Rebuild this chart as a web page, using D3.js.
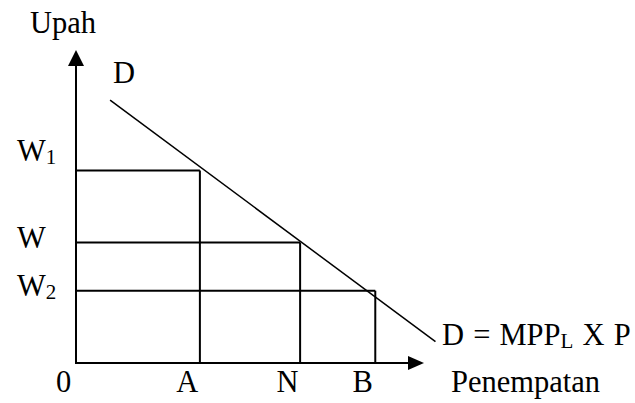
<!DOCTYPE html>
<html>
<head>
<meta charset="utf-8">
<script src="https://cdn.jsdelivr.net/npm/d3@7"></script>
<style>
  body { margin: 0; background: #fff; }
  svg { display: block; }
  text { font-family: "Liberation Serif", "Times New Roman", serif; fill: #000; }
</style>
</head>
<body>
<div id="chart"></div>
<script>

// labour placed (horizontal axis)
var qLabels = ["0", "A", "N", "B"]
var qValues = [0, 3.56, 6.44, 8.6]

// wage levels (vertical axis), main letter + subscript
var wLabels = [["W", "1"], ["W", ""], ["W", "2"]]
var wValues = [6.15, 3.85, 2.31]

// demand curve D = MPP_L x P, end points
var demandX = [0.98, 10.33]
var demandY = [8.4, 0.68]

var width = 635, height = 403

var svg = d3.select("#chart").append("svg")
    .attr("width", width)
    .attr("height", height)

var x = d3.scaleLinear().domain([0, 10]).range([76, 424])
var y = d3.scaleLinear().domain([0, 10]).range([363, 50])

var fs = 30.5
var sub = 21

// x labels
var xAxis = svg.append("g")
    .attr("transform", "translate(0," + y(0) + ")")
    .call(d3.axisBottom(x)
        .tickValues(qValues)
        .tickFormat(function(d, i) { return qLabels[i] })
        .tickSize(0)
        .tickPadding(7.5))

xAxis.select(".domain").remove()
xAxis.attr("font-size", null).attr("font-family", null)
xAxis.selectAll("text")
    .attr("x", -13)
    .attr("font-size", fs)

// y labels
var labelShift = [-10, 5.5, 4.5]

var yAxis = svg.append("g")
    .attr("transform", "translate(" + x(0) + ",0)")
    .call(d3.axisLeft(y)
        .tickValues(wValues)
        .tickFormat(function(d, i) { return wLabels[i][0] })
        .tickSize(0))

yAxis.select(".domain").remove()
yAxis.attr("font-size", null).attr("font-family", null)
yAxis.selectAll("text")
    .attr("font-size", fs)
    .attr("text-anchor", "start")
    .attr("x", -59)
    .attr("dy", function(d, i) { return labelShift[i] })
    .each(function(d, i) {
        var t = d3.select(this)
        t.text(null)
        t.append("tspan").text(wLabels[i][0])
        if (wLabels[i][1]) {
            t.append("tspan").attr("font-size", sub).attr("dy", 3).text(wLabels[i][1])
        }
    })

// rectangles from wage to quantity
var pairs = wValues.map(function(w, i) { return { w: w, q: qValues[i + 1] } })

svg.selectAll(".hline").data(pairs).enter().append("line")
    .attr("x1", x(0))
    .attr("x2", function(d) { return x(d.q) })
    .attr("y1", function(d) { return y(d.w) })
    .attr("y2", function(d) { return y(d.w) })
    .attr("stroke", "#000")
    .attr("stroke-width", 2)

svg.selectAll(".vline").data(pairs).enter().append("line")
    .attr("x1", function(d) { return x(d.q) })
    .attr("x2", function(d) { return x(d.q) })
    .attr("y1", function(d) { return y(d.w) })
    .attr("y2", y(0))
    .attr("stroke", "#000")
    .attr("stroke-width", 2)

// axes with arrows
svg.append("line")
    .attr("x1", x(0)).attr("y1", y(0))
    .attr("x2", x(0)).attr("y2", y(10) + 10)
    .attr("stroke", "#000").attr("stroke-width", 2)

svg.append("line")
    .attr("x1", x(0) - 1).attr("y1", y(0))
    .attr("x2", x(10) - 10).attr("y2", y(0))
    .attr("stroke", "#000").attr("stroke-width", 2)

svg.append("path")
    .attr("d", "M" + x(0) + "," + y(10) + "L" + (x(0) - 8) + "," + (y(10) + 16) + "L" + (x(0) + 8) + "," + (y(10) + 16) + "Z")
    .attr("fill", "#000")

svg.append("path")
    .attr("d", "M" + x(10) + "," + y(0) + "L" + (x(10) - 16) + "," + (y(0) - 7) + "L" + (x(10) - 16) + "," + (y(0) + 7) + "Z")
    .attr("fill", "#000")

// demand curve
svg.append("line")
    .attr("x1", x(demandX[0])).attr("y1", y(demandY[0]))
    .attr("x2", x(demandX[1])).attr("y2", y(demandY[1]))
    .attr("stroke", "#000").attr("stroke-width", 1.5)

// labels
svg.append("text").attr("x", 30).attr("y", 33).attr("font-size", fs).text("Upah")
svg.append("text").attr("x", 113).attr("y", 83).attr("font-size", fs).text("D")

var dl = svg.append("text").attr("x", 442).attr("y", 345).attr("font-size", fs)
    .attr("word-spacing", 1.5)
dl.append("tspan").text("D = MPP")
dl.append("tspan").attr("font-size", sub).attr("dy", 3).text("L")
dl.append("tspan").attr("dy", -3).text(" X P")

svg.append("text").attr("x", 451).attr("y", 392).attr("font-size", fs).text("Penempatan")

</script>
</body>
</html>
